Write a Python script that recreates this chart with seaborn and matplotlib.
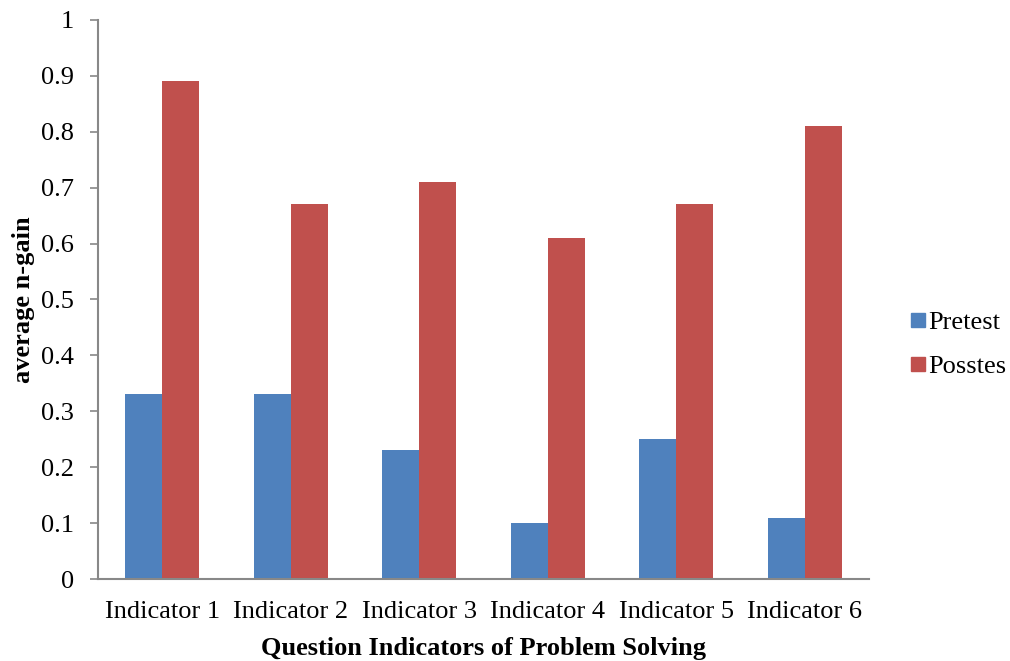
import matplotlib
matplotlib.use("Agg")
import matplotlib.pyplot as plt
import seaborn as sns
import pandas as pd
from matplotlib.lines import Line2D

categories = ["Indicator 1", "Indicator 2", "Indicator 3", "Indicator 4", "Indicator 5", "Indicator 6"]
series_names = ["Pretest", "Posstes"]
pretest = [0.33, 0.33, 0.23, 0.10, 0.25, 0.11]
posttest = [0.89, 0.67, 0.71, 0.61, 0.67, 0.81]
y_ticks = [0, 0.1, 0.2, 0.3, 0.4, 0.5, 0.6, 0.7, 0.8, 0.9, 1]
y_tick_labels = ["0", "0.1", "0.2", "0.3", "0.4", "0.5", "0.6", "0.7", "0.8", "0.9", "1"]
colors = ["#4F81BD", "#C0504D"]

df = pd.DataFrame({
    "cat": categories * 2,
    "val": pretest + posttest,
    "series": [series_names[0]] * len(categories) + [series_names[1]] * len(categories),
})

sns.set_theme(style="white")
plt.rcParams["font.family"] = ["Liberation Serif", "DejaVu Serif"]
plt.rcParams["text.color"] = "black"
plt.rcParams["axes.labelcolor"] = "black"
plt.rcParams["xtick.color"] = "black"
plt.rcParams["ytick.color"] = "black"

FS = 19

fig = plt.figure(figsize=(10.10, 6.61), dpi=100)
ax = fig.add_axes([0.097, 0.124, 0.7634, 0.846])
sns.barplot(data=df, x="cat", y="val", hue="series", palette=colors, width=0.575,
            saturation=1, ax=ax, legend=False)
for p in ax.patches:
    p.set_edgecolor("none")

ax.set_xlim(-0.5, 5.5)
ax.set_ylim(0, 1)
ax.set_yticks(y_ticks)
ax.set_yticklabels(y_tick_labels, fontsize=FS, color="black")
ax.tick_params(axis="y", direction="out", length=6, width=1.2, color="#888888", left=True, pad=11)
ax.tick_params(axis="x", length=0, pad=16)
for lab in ax.get_xticklabels():
    lab.set_fontsize(FS)
    lab.set_color("black")
for s in ["top", "right"]:
    ax.spines[s].set_visible(False)
for s in ["left", "bottom"]:
    ax.spines[s].set_color("#888888")
    ax.spines[s].set_linewidth(1.5)
ax.set_xlabel("Question Indicators of Problem Solving", fontsize=FS, fontweight="bold",
              labelpad=10, color="black")
ax.set_ylabel("average n-gain", fontsize=FS, fontweight="bold", labelpad=4.5, color="black")

handles = [Line2D([], [], marker="s", linestyle="none", markersize=10, color=c) for c in colors]
fig.legend(handles, series_names, loc="center left", bbox_to_anchor=(0.875, 0.479), frameon=False,
           fontsize=FS, handletextpad=0.0, labelspacing=0.75, handlelength=0.8,
           labelcolor="black", borderpad=0.4)

fig.savefig("out.png", dpi=100)
